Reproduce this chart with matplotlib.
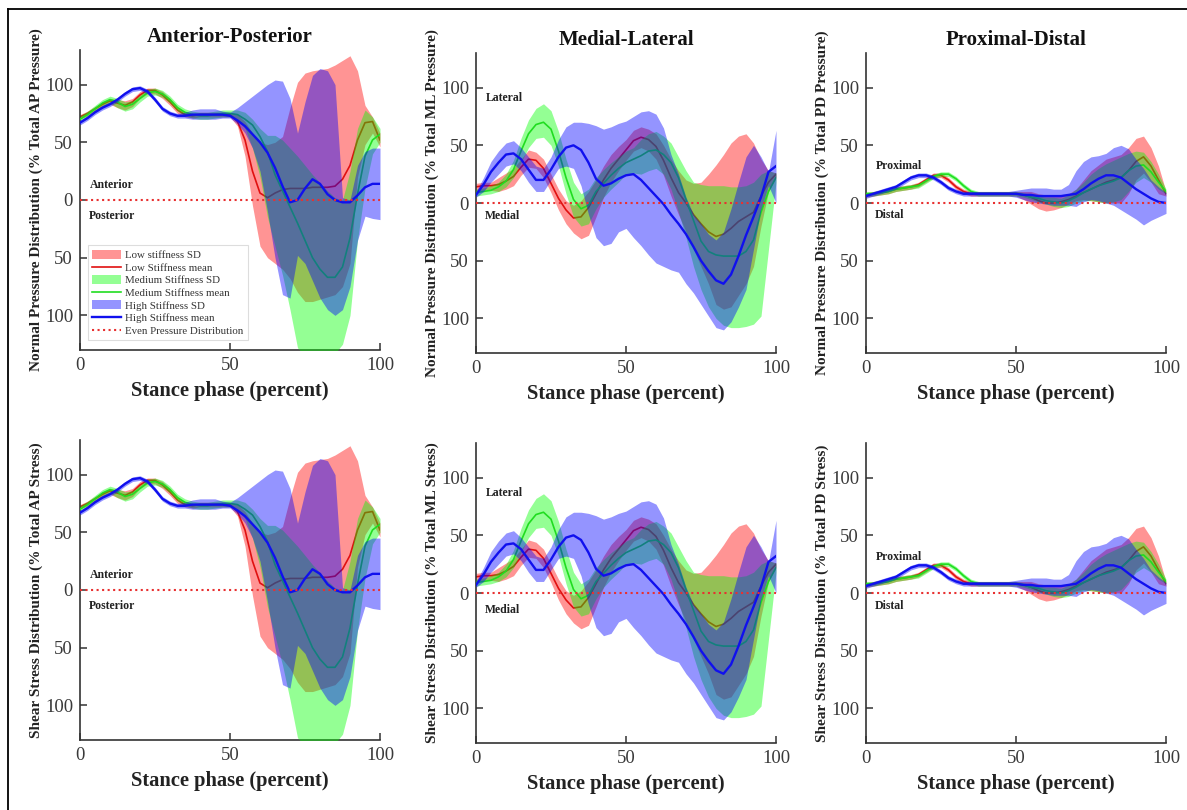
import matplotlib
matplotlib.use('Agg')
import matplotlib.pyplot as plt
from matplotlib.lines import Line2D

plt.rcParams['font.family'] = ['Liberation Serif', 'DejaVu Serif']

# ---------------- data (percent of stance phase) ----------------
stance_pct = [0, 2.5, 5, 7.5, 10, 12.5, 15, 17.5, 20, 22.5, 25, 27.5, 30, 32.5, 35, 37.5, 40,
              42.5, 45, 47.5, 50, 52.5, 55, 57.5, 60, 62.5, 65, 67.5, 70, 72.5, 75, 77.5, 80,
              82.5, 85, 87.5, 90, 92.5, 95, 97.5, 100]

# Anterior-Posterior
ap_low_mean = [72, 75, 79, 83, 86, 84, 82, 85, 91, 95, 95, 91, 85, 78, 74, 73, 74, 74, 74, 74, 74,
               68, 52, 25, 6, 2, 6, 9, 10, 10, 10, 11, 11, 11, 12, 18, 30, 52, 67, 68, 52]
ap_low_lo = [70, 73, 77, 80, 83, 80, 78, 81, 88, 92, 92, 88, 82, 75, 72, 71, 72, 72, 72, 72, 72,
             64, 38, -5, -40, -50, -55, -60, -68, -80, -88, -88, -86, -84, -82, -75, -55, 20, 48, 58, 46]
ap_low_hi = [74, 77, 81, 85, 88, 87, 86, 88, 94, 97, 97, 94, 88, 81, 76, 75, 76, 76, 76, 76, 76,
             74, 68, 58, 50, 48, 50, 55, 80, 102, 110, 112, 113, 114, 117, 121, 125, 112, 82, 72, 58]
ap_med_mean = [70, 74, 79, 84, 87, 85, 81, 83, 88, 93, 94, 92, 87, 80, 76, 74, 73, 73, 74, 75, 75,
               74, 70, 65, 55, 42, 22, 8, -6, -20, -35, -50, -60, -67, -67, -58, -33, 5, 38, 52, 57]
ap_med_lo = [67, 71, 76, 81, 84, 80, 77, 79, 85, 90, 91, 89, 84, 77, 73, 71, 70, 70, 71, 72, 72,
             70, 62, 45, 20, -15, -40, -65, -95, -128, -135, -135, -135, -135, -133, -125, -100, -35, 10, 40, 50]
ap_med_hi = [73, 77, 82, 87, 90, 88, 85, 86, 91, 96, 97, 95, 90, 83, 79, 77, 76, 76, 77, 78, 78,
             78, 76, 70, 62, 56, 56, 52, 45, 38, 30, 22, 15, 8, 2, 0, 25, 62, 78, 72, 62]
ap_high_mean = [67, 71, 76, 80, 83, 87, 92, 96, 97, 94, 87, 79, 75, 73, 73, 74, 74, 74, 74, 74, 73,
                69, 64, 57, 50, 41, 28, 12, -2, 0, 10, 18, 14, 5, 0, -2, -2, 4, 11, 14, 14]
ap_high_lo = [65, 69, 74, 78, 81, 85, 90, 94, 95, 92, 85, 77, 73, 71, 71, 70, 70, 70, 70, 71, 71,
              66, 58, 45, 25, -10, -50, -82, -85, -48, -55, -70, -85, -95, -100, -95, -75, -35, -14, -16, -17]
ap_high_hi = [69, 73, 78, 82, 85, 89, 94, 98, 99, 96, 89, 81, 77, 75, 76, 78, 79, 79, 79, 77, 76,
              80, 85, 90, 95, 100, 104, 103, 88, 58, 85, 108, 114, 112, 100, 2, 0, 30, 42, 45, 45]

# Medial-Lateral
ml_low_mean = [14, 15, 15, 16, 19, 23, 31, 38, 37, 30, 17, 4, -6, -13, -12, -4, 8, 20, 30, 38, 46,
               54, 57, 55, 49, 37, 22, 9, 0, -10, -18, -25, -29, -27, -22, -16, -12, -8, 6, 18, 25]
ml_low_lo = [10, 11, 11, 10, 12, 15, 24, 31, 30, 22, 9, -6, -18, -26, -31, -28, -12, 5, 18, 28, 37,
             45, 48, 45, 38, 24, 6, -10, -25, -40, -55, -70, -88, -92, -90, -80, -70, -55, -20, 10, 22]
ml_low_hi = [17, 18, 18, 22, 26, 30, 38, 46, 44, 38, 25, 12, 2, -2, 2, 10, 20, 32, 42, 49, 55,
             63, 66, 64, 60, 50, 38, 28, 20, 17, 18, 25, 33, 42, 52, 58, 60, 52, 38, 28, 26]
ml_med_mean = [9, 10, 11, 14, 19, 29, 45, 60, 68, 70, 64, 45, 22, 3, -5, -2, 10, 17, 24, 30, 35,
               38, 41, 45, 46, 42, 35, 22, 3, -15, -33, -42, -45, -46, -46, -46, -42, -32, -8, 10, 22]
ml_med_lo = [6, 7, 8, 10, 14, 22, 35, 48, 56, 57, 50, 32, 8, -12, -20, -18, -5, 5, 12, 18, 25,
             26, 25, 28, 30, 25, 12, -8, -30, -55, -75, -90, -100, -106, -108, -108, -107, -105, -98, -40, 18]
ml_med_hi = [12, 13, 15, 18, 25, 37, 56, 72, 82, 86, 80, 62, 38, 18, 8, 12, 22, 29, 35, 40, 45,
             48, 55, 60, 62, 58, 52, 40, 28, 18, 16, 15, 15, 15, 14, 14, 15, 18, 25, 28, 26]
ml_high_mean = [7, 16, 27, 35, 42, 43, 38, 29, 20, 20, 29, 40, 48, 50, 46, 35, 21, 15, 17, 21, 24,
                25, 20, 13, 6, -1, -10, -18, -27, -38, -50, -59, -67, -70, -62, -46, -28, -12, 5, 27, 32]
ml_high_lo = [5, 10, 18, 25, 32, 34, 28, 18, 10, 10, 20, 30, 32, 30, 15, -10, -30, -37, -35, -25, -22,
              -30, -37, -45, -52, -55, -58, -60, -70, -78, -88, -98, -108, -110, -103, -90, -75, -40, -5, 15, 0]
ml_high_hi = [10, 22, 36, 45, 52, 54, 48, 40, 32, 30, 40, 55, 66, 70, 70, 69, 67, 64, 66, 69, 71,
              75, 79, 80, 77, 65, 42, 25, 5, -10, -18, -27, -32, -25, -5, 18, 40, 50, 40, 27, 63]

# Proximal-Distal
pd_low_mean = [7, 8, 9, 10, 12, 13, 14, 16, 20, 24, 24, 20, 14, 10, 8, 8, 8, 8, 8, 8, 8,
               7, 5, 2, 0, 0, 1, 3, 6, 9, 12, 15, 18, 20, 22, 28, 36, 40, 32, 20, 8]
pd_low_lo = [5, 6, 7, 8, 10, 11, 12, 14, 18, 22, 22, 18, 12, 8, 6, 6, 6, 6, 6, 6, 6,
             3, -1, -5, -7, -6, -4, -1, 2, 3, 2, 1, 0, 0, 0, 8, 20, 26, 18, 8, 6]
pd_low_hi = [9, 10, 11, 12, 14, 15, 16, 18, 22, 26, 26, 22, 16, 12, 10, 10, 10, 10, 10, 10, 10,
             10, 10, 8, 7, 6, 6, 8, 12, 20, 28, 33, 38, 40, 42, 48, 56, 58, 48, 32, 10]
pd_med_mean = [8, 8, 9, 10, 12, 13, 14, 15, 19, 23, 25, 25, 21, 15, 10, 8, 8, 8, 8, 8, 8,
               7, 5, 4, 2, 1, 0, 2, 5, 9, 12, 15, 17, 19, 22, 28, 32, 33, 27, 18, 10]
pd_med_lo = [6, 6, 7, 8, 10, 11, 12, 13, 17, 21, 23, 23, 19, 13, 8, 6, 6, 6, 6, 6, 6,
             5, 3, 1, -1, -3, -4, -3, 0, 2, 2, 1, 0, 1, 3, 10, 18, 22, 18, 12, 8]
pd_med_hi = [10, 10, 11, 12, 14, 15, 16, 17, 21, 25, 27, 27, 23, 17, 12, 10, 10, 10, 10, 10, 10,
             9, 7, 6, 5, 5, 4, 7, 12, 18, 25, 30, 34, 37, 40, 43, 45, 44, 36, 25, 12]
pd_high_mean = [6, 8, 10, 12, 14, 18, 22, 24, 24, 22, 18, 13, 10, 8, 8, 8, 8, 8, 8, 8, 8,
                7, 7, 6, 6, 6, 6, 7, 8, 12, 17, 21, 24, 24, 22, 17, 12, 8, 4, 1, 0]
pd_high_lo = [4, 6, 8, 10, 12, 16, 20, 22, 22, 20, 16, 11, 8, 6, 6, 6, 6, 6, 6, 6, 5,
              3, 1, 0, -1, -2, -2, -2, -3, 1, 3, 2, 0, -2, -6, -10, -14, -19, -15, -12, -9]
pd_high_hi = [8, 10, 12, 14, 16, 20, 24, 26, 26, 24, 20, 15, 12, 10, 10, 10, 10, 10, 10, 10, 11,
              12, 13, 13, 13, 12, 12, 16, 28, 36, 40, 41, 43, 48, 50, 47, 38, 30, 20, 14, 9]

titles = ['Anterior-Posterior', 'Medial-Lateral', 'Proximal-Distal']
row_ylabels = [
    ['Normal Pressure Distribution (% Total AP Pressure)',
     'Normal Pressure Distribution (% Total ML Pressure)',
     'Normal Pressure Distribution (% Total PD Pressure)'],
    ['Shear Stress Distribution (% Total AP Stress)',
     'Shear Stress Distribution (% Total ML Stress)',
     'Shear Stress Distribution (% Total PD Stress)'],
]
side_labels = [('Anterior', 'Posterior'), ('Lateral', 'Medial'), ('Proximal', 'Distal')]
side_label_y = [[(13, -14), (91, -11), (32, -10)], [(13, -14), (87, -15), (31, -11)]]
xtick_vals = [0, 50, 100]
ytick_vals = [-100, -50, 0, 50, 100]
ytick_text = ['100', '50', '0', '50', '100']
legend_labels = ['Low stiffness SD', 'Low Stiffness mean', 'Medium Stiffness SD',
                 'Medium Stiffness mean', 'High Stiffness SD', 'High Stiffness mean',
                 'Even Pressure Distribution']

panel_data = [
    [(ap_low_lo, ap_low_hi, ap_low_mean), (ap_med_lo, ap_med_hi, ap_med_mean), (ap_high_lo, ap_high_hi, ap_high_mean)],
    [(ml_low_lo, ml_low_hi, ml_low_mean), (ml_med_lo, ml_med_hi, ml_med_mean), (ml_high_lo, ml_high_hi, ml_high_mean)],
    [(pd_low_lo, pd_low_hi, pd_low_mean), (pd_med_lo, pd_med_hi, pd_med_mean), (pd_high_lo, pd_high_hi, pd_high_mean)],
]

# ---------------- styling ----------------
fill_colors = ['#ff0000', '#00ff00', '#0000ff']
line_colors = ['#e01010', '#20dd20', '#1010ee']
line_widths = [1.2, 1.2, 1.7]

W, H = 1187, 810
fig = plt.figure(figsize=(W / 100, H / 100), dpi=100)
col_left = [80, 476, 866]
row_top = [[50, 53, 53], [440, 443, 443]]
AX_W = AX_H = 300

axis_col = '#333333'

for r in range(2):
    for c in range(3):
        top = row_top[r][c]
        ax = fig.add_axes([col_left[c] / W, 1 - (top + AX_H) / H, AX_W / W, AX_H / H])
        handles = []
        z = 1
        for k, (lo, hi, mean) in enumerate(panel_data[c]):
            h_fill = ax.fill_between(stance_pct, lo, hi, color=fill_colors[k], alpha=0.42,
                                     linewidth=0, zorder=z)
            h_line, = ax.plot(stance_pct, mean, color=line_colors[k], lw=line_widths[k], zorder=z + 1)
            handles += [h_fill, h_line]
            z += 2
        h_even, = ax.plot([0, 100], [0, 0], ls=':', color='#e83030', lw=1.5, zorder=z)
        handles.append(h_even)

        ax.set_xlim(0, 100)
        ax.set_ylim(-130, 130)
        ax.set_xticks(xtick_vals)
        ax.set_yticks(ytick_vals)
        ax.set_yticklabels(ytick_text)
        for s in ['top', 'right']:
            ax.spines[s].set_visible(False)
        for s in ['left', 'bottom']:
            ax.spines[s].set_color(axis_col)
            ax.spines[s].set_linewidth(1.2)
        ax.tick_params(direction='in', length=5, width=1.1, color=axis_col,
                       labelcolor='#3a3a3a', labelsize=13.5, pad=5)

        ax.set_xlabel('Stance phase (percent)', fontsize=14.8, fontweight='bold', color='#222222')
        ax.xaxis.set_label_coords(0.5, -31 / AX_H)
        ax.set_ylabel(row_ylabels[r][c], fontsize=11, fontweight='bold', color='#222222')
        ax.yaxis.set_label_coords(-37 / AX_W, 0.5)

        if r == 0:
            ax.text(0.5, 1 + 13 / AX_H, titles[c], transform=ax.transAxes, ha='center',
                    va='center', fontsize=15, fontweight='bold', color='#111111')

        pos_t, neg_t = side_labels[c]
        py, ny = side_label_y[r][c]
        ax.text(3.2, py, pos_t, fontsize=8.5, fontweight='bold', ha='left', va='center',
                color='#222222', zorder=10)
        ax.text(3.0, ny, neg_t, fontsize=8.5, fontweight='bold', ha='left', va='center',
                color='#222222', zorder=10)

        if r == 0 and c == 0:
            leg = ax.legend(handles, legend_labels, loc='lower left', bbox_to_anchor=(0.027, 0.033),
                            fontsize=7.8, frameon=True, fancybox=False, edgecolor='#dddddd',
                            framealpha=1, handlelength=2.6, handleheight=0.9, labelspacing=0.22,
                            borderpad=0.4, handletextpad=0.4, borderaxespad=0)
            leg.get_frame().set_linewidth(0.8)
            for t in leg.get_texts():
                t.set_color('#333333')
            leg.set_zorder(20)

# outer frame (left and top edges)
fig.add_artist(Line2D([8 / W, 8 / W], [1 - 9 / H, 0], transform=fig.transFigure, color='black', lw=1.3))
fig.add_artist(Line2D([8 / W, 1], [1 - 9 / H, 1 - 9 / H], transform=fig.transFigure, color='black', lw=1.3))

fig.savefig('out.png', dpi=100)
